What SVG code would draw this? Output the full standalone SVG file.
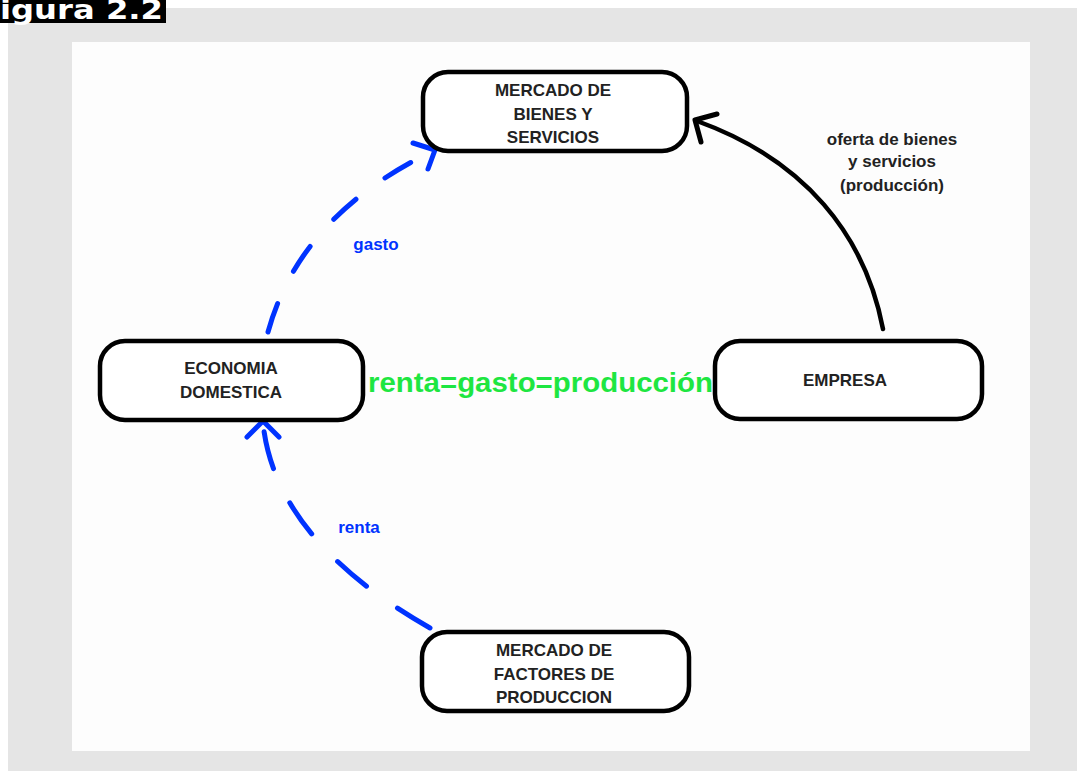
<svg xmlns="http://www.w3.org/2000/svg" width="1077" height="771" viewBox="0 0 1077 771">
<style>
.node rect{fill:#ffffff;stroke:#000;stroke-width:4.5}
.nt{font-family:"Liberation Sans",Arial,sans-serif;font-weight:bold;font-size:17px;fill:#222;text-anchor:middle}
.bl{font-family:"Liberation Sans",Arial,sans-serif;font-weight:bold;font-size:17px;fill:#0033ff;text-anchor:middle}
.dash{fill:none;stroke:#0033ff;stroke-width:5;stroke-linecap:round}
.head{fill:none;stroke-width:5;stroke-linecap:round;stroke-linejoin:round}
</style>
<rect x="0" y="0" width="1077" height="771" fill="#ffffff"/>
<rect x="8" y="8" width="1069" height="763" fill="#e5e5e5"/>
<rect x="72" y="42" width="958" height="709" fill="#fdfdfd"/>
<g id="title">
<rect x="0" y="0" width="166" height="23" fill="#000"/>
<text x="-22" y="19" textLength="185" lengthAdjust="spacingAndGlyphs" font-family="DejaVu Sans,sans-serif" font-weight="bold" font-size="26" fill="#fff">Figura 2.2</text>
</g>
<g id="connectors">
<path class="dash" d="M268,332 Q300,215 433,151" stroke-dasharray="30 36"/>
<path class="head" stroke="#0033ff" d="M413,143 L435,150 L428,169"/>
<path class="dash" d="M430,628 Q275,540 263,423" stroke-dasharray="38 38"/>
<path class="head" stroke="#0033ff" d="M247,437 L263,421 L279,437"/>
<path fill="none" stroke="#000" stroke-width="4.5" stroke-linecap="round" d="M883,329 C865,235 805,160 697,121"/>
<path class="head" stroke="#000" d="M717,114 L695,120 L701,142"/>
</g>
<g id="labels">
<text class="bl" x="376" y="250">gasto</text>
<text class="bl" x="359" y="533">renta</text>
<text class="nt" x="892" y="145">oferta de bienes</text>
<text class="nt" x="892" y="167">y servicios</text>
<text class="nt" x="892" y="191">(producción)</text>
<text x="368" y="392" textLength="345" lengthAdjust="spacingAndGlyphs" font-family="Liberation Sans,Arial,sans-serif" font-weight="bold" font-size="28" fill="#1ee641">renta=gasto=producción</text>
</g>
<g id="mercado-bienes" class="node">
<rect x="423" y="72" width="264" height="79" rx="25"/>
<text class="nt" x="553" y="96">MERCADO DE</text>
<text class="nt" x="553" y="120">BIENES Y</text>
<text class="nt" x="553" y="143">SERVICIOS</text>
</g>
<g id="economia-domestica" class="node">
<rect x="100" y="341" width="263" height="79" rx="25"/>
<text class="nt" x="231" y="374">ECONOMIA</text>
<text class="nt" x="231" y="398">DOMESTICA</text>
</g>
<g id="empresa" class="node">
<rect x="715" y="341" width="267" height="78" rx="25"/>
<text class="nt" x="845" y="386">EMPRESA</text>
</g>
<g id="mercado-factores" class="node">
<rect x="422" y="632" width="267" height="79" rx="25"/>
<text class="nt" x="554" y="656">MERCADO DE</text>
<text class="nt" x="554" y="680">FACTORES DE</text>
<text class="nt" x="554" y="703">PRODUCCION</text>
</g>
</svg>
